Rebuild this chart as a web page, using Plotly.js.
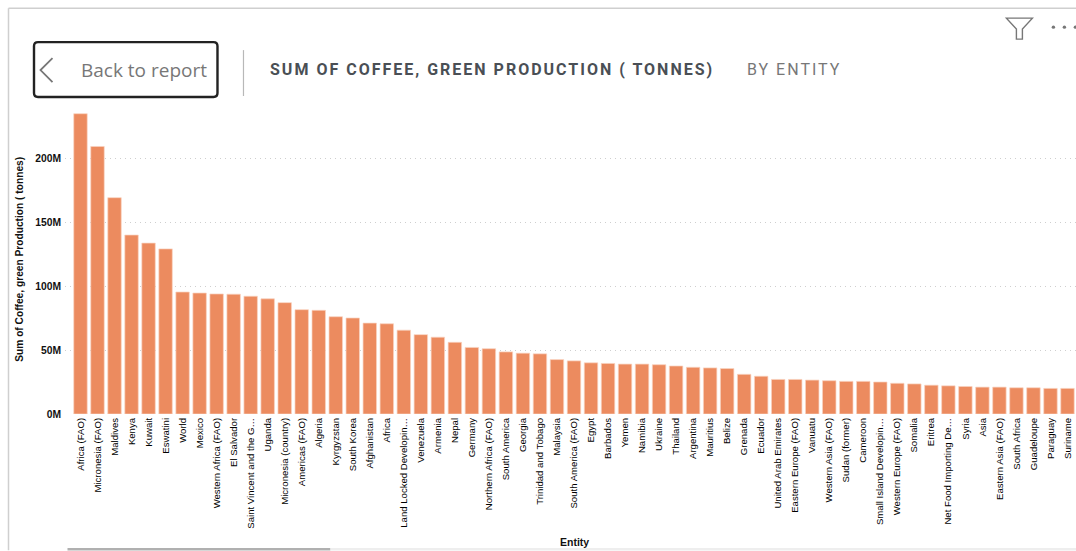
<!DOCTYPE html>
<html>
<head>
<meta charset="utf-8">
<script src="https://cdn.plot.ly/plotly-3.0.1.min.js"></script>
<style>
html,body{margin:0;padding:0;background:#fff;overflow:hidden}
#chart{width:1076px;height:551px}
</style>
</head>
<body>
<div id="chart"></div>
<script>
const entities = ["Africa (FAO)","Micronesia (FAO)","Maldives","Kenya","Kuwait","Eswatini","World","Mexico","Western Africa (FAO)","El Salvador","Saint Vincent and the G…","Uganda","Micronesia (country)","Americas (FAO)","Algeria","Kyrgyzstan","South Korea","Afghanistan","Africa","Land Locked Developin…","Venezuela","Armenia","Nepal","Germany","Northern Africa (FAO)","South America","Georgia","Trinidad and Tobago","Malaysia","South America (FAO)","Egypt","Barbados","Yemen","Namibia","Ukraine","Thailand","Argentina","Mauritius","Belize","Grenada","Ecuador","United Arab Emirates","Eastern Europe (FAO)","Vanuatu","Western Asia (FAO)","Sudan (former)","Cameroon","Small Island Developin…","Western Europe (FAO)","Somalia","Eritrea","Net Food Importing De…","Syria","Asia","Eastern Asia (FAO)","South Africa","Guadeloupe","Paraguay","Suriname"];
const production = [234.6,209,169,139.8,133.5,129,95.3,94.5,93.8,93.6,92,90,87,81.5,81,76,75,71,70.5,65.5,62,60,56,52,51,48.5,47.5,47,42.5,41.5,40,39.5,39,39,38.5,37.5,36.5,36,35.5,31,29.5,27,27,26.5,26,25.5,25.5,25,24,23.5,22.5,22,21.5,21,21,20.5,20.5,20,20];
const yTicks = [0,50,100,150,200];
const yTickLabels = ["0M","50M","100M","150M","200M"];
const W=1076,H=551,L=64.5,R=0.4,T=110,B=136.5;
const px=x=>(x-L)/(W-L-R), py=y=>1-(y-T)/(H-T-B);
const line=(x0,y0,x1,y1,color,width)=>({type:'line',xref:'paper',yref:'paper',x0:px(x0),y0:py(y0),x1:px(x1),y1:py(y1),line:{color,width},layer:'above'});
const path=(pts,color,width,close)=>({type:'path',xref:'paper',yref:'paper',path:pts.map((p,i)=>(i?'L':'M')+px(p[0])+' '+py(p[1])).join(' ')+(close?' Z':''),line:{color,width},layer:'above'});
const rounded=(x0,y0,x1,y1,r,color,width)=>{
 const P=(x,y)=>px(x)+' '+py(y);
 return {type:'path',xref:'paper',yref:'paper',line:{color,width},layer:'above',
  path:'M'+P(x0+r,y0)+' L'+P(x1-r,y0)+' Q'+P(x1,y0)+' '+P(x1,y0+r)+' L'+P(x1,y1-r)+' Q'+P(x1,y1)+' '+P(x1-r,y1)+' L'+P(x0+r,y1)+' Q'+P(x0,y1)+' '+P(x0,y1-r)+' L'+P(x0,y0+r)+' Q'+P(x0,y0)+' '+P(x0+r,y0)+' Z'};
};
const note=(text,x,y,font,extra)=>Object.assign({text,xref:'paper',yref:'paper',x:px(x),y:py(y),xanchor:'center',yanchor:'middle',showarrow:false,font},extra||{});
const shapes=[
 line(8,8,1076,8,'#cfcfcf',1.5),
 line(8,8,8,551,'#cfcfcf',1.5),
 line(67,550,330,550,'#b0b0b0',2.5),
 line(330,550,1076,550,'#eeeeee',2.5),
 rounded(33.5,42,217,97,4,'#222222',2.4),
 path([[52,58],[40,70],[52,82]],'#777777',1.8,false),
 line(243,50,243,96,'#b8b8b8',1.2),
 path([[1006,18],[1032,18],[1022,29],[1022,39],[1016,39],[1016,29]],'#777777',1.4,true)
];
[1053,1064,1075].forEach(x=>shapes.push({type:'circle',xref:'paper',yref:'paper',x0:px(x-1.7),x1:px(x+1.7),y0:py(25.3),y1:py(28.7),fillcolor:'#777777',line:{width:0},layer:'above'}));
const annotations=[
 note('Back to report',144,69.5,{size:19,color:'#777777',family:'"Open Sans", sans-serif'}),
 note('SUM OF COFFEE, GREEN PRODUCTION ( TONNES)',492,69.5,{size:16,color:'#4a4f55',family:'Roboto, sans-serif',weight:700}),
 note('BY ENTITY',794.5,69.5,{size:16,color:'#777777',family:'Roboto, sans-serif'}),
 note('Sum of Coffee, green Production ( tonnes)',19,259.5,{size:10.2,color:'#111111',family:'"Liberation Sans", sans-serif',weight:700},{textangle:-90}),
 note('Entity',574,543,{size:10.5,color:'#111111',family:'"Liberation Sans", sans-serif',weight:700})
];
Plotly.newPlot('chart',[{
 type:'bar',x:entities,y:production,
 marker:{color:'#EC8B5F',line:{color:'#F9D3C0',width:0.7}},
 hoverinfo:'x+y'
}],{
 width:W,height:H,paper_bgcolor:'#fff',plot_bgcolor:'#fff',showlegend:false,bargap:0.21,
 margin:{l:L,r:R,t:T,b:B,pad:0},
 xaxis:{type:'category',categoryorder:'array',categoryarray:entities,range:[-0.91,58.5],tickangle:-90,tickmode:'array',tickvals:entities,ticktext:entities,ticks:'',ticklen:0,showgrid:false,zeroline:false,showline:false,automargin:false,ticklabelstandoff:1,
  tickfont:{size:9.6,color:'#000000',family:'"Liberation Sans", sans-serif'}},
 yaxis:{range:[0,237.5],tickmode:'array',tickvals:yTicks,ticktext:yTickLabels,ticks:'',showline:false,zeroline:false,automargin:false,showgrid:true,gridcolor:'#cfcfcf',griddash:'1px,4px',gridwidth:1,ticklabelstandoff:3,
  tickfont:{size:10.3,color:'#111111',family:'"Liberation Sans", sans-serif',weight:700}},
 shapes,annotations
},{displayModeBar:false,responsive:false}).then(()=>{
 document.querySelectorAll('.annotation-text').forEach(t=>{
  if(/SUM OF|BY ENTITY/.test(t.textContent)) t.style.letterSpacing='2px';
 });
});
</script>
</body>
</html>
